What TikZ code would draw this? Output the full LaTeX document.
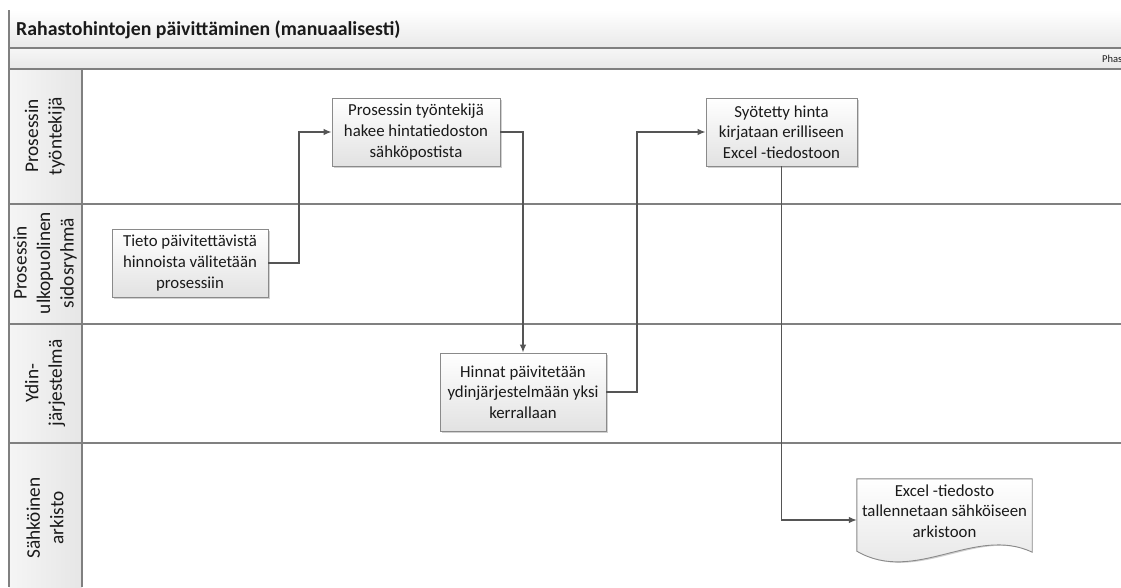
\documentclass[tikz,border=0pt]{standalone}
\usepackage{fontspec}
\setmainfont{Carlito}
\usetikzlibrary{calc,shadows,arrows.meta}
\definecolor{framegray}{HTML}{808080}
\definecolor{conngray}{HTML}{555555}
\definecolor{boxedge}{HTML}{8A8A8A}
\definecolor{bandlow}{HTML}{E9E9E9}
\definecolor{celllow}{HTML}{E6E6E6}
\definecolor{boxlow}{HTML}{E2E2E2}
\definecolor{inktext}{HTML}{1A1A1A}
\tikzset{
  frame/.style={draw=framegray, line width=1.1pt},
  task/.style={draw=boxedge, line width=0.9pt, top color=white, bottom color=boxlow,
    align=center, text=inktext, inner sep=0pt,
    font=\fontsize{16.8}{20.7}\selectfont,
    drop shadow={shadow xshift=1.8pt, shadow yshift=-1.8pt, fill=black, opacity=0.18}},
  lanetext/.style={rotate=90, align=center, text=inktext,
    font=\fontsize{19.3}{23.5}\selectfont},
  conn/.style={draw=conngray, line width=1.2pt, -{Latex[length=8pt,width=6.5pt]}},
}
\begin{document}
\begin{tikzpicture}[x=1pt,y=-1pt]
\useasboundingbox (0,0) rectangle (1121,587);
\fill[white] (0,0) rectangle (1121,587);

% title band and phase band
\shade[top color=white, bottom color=bandlow] (9,10) rectangle (1121,48);
\shade[top color=white!60!bandlow, bottom color=bandlow] (9,48) rectangle (1121,69);
\node[anchor=base west, text=inktext, inner sep=0pt,
  font=\fontsize{19.8}{23}\selectfont\bfseries] (title)
  at (16,35) {Rahastohintojen päivittäminen (manuaalisesti)};
\node[anchor=west, text=inktext, inner sep=0pt, font=\fontsize{10.5}{12}\selectfont] (phase)
  at (1102,59) {Phas};

% lane header column
\shade[left color=white!60!celllow, right color=celllow] (9,69) rectangle (82,587);

% lane frame
\draw[frame] (9,10) -- (9,587);
\draw[frame] (9,48) -- (1121,48);
\draw[frame] (9,69) -- (1121,69);
\draw[frame] (82,69) -- (82,587);
\draw[frame] (9,204) -- (1121,204);
\draw[frame] (9,324) -- (1121,324);
\draw[frame] (9,443) -- (1121,443);

% lane names
\node[lanetext] (lane1) at (45,136) {Prosessin\\työntekijä};
\node[lanetext] (lane2) at (45,263) {Prosessin\\ulkopuolinen\\sidosryhmä};
\node[lanetext] (lane3) at (45,383) {Ydin-\\järjestelmä};
\node[lanetext] (lane4) at (45,518) {Sähköinen\\arkisto};

% process steps
\node[task, minimum width=156pt, minimum height=68pt] (tieto) at (190,263)
  {Tieto päivitettävistä\\hinnoista välitetään\\prosessiin};
\node[task, minimum width=168pt, minimum height=68pt] (hakee) at (416,132)
  {Prosessin työntekijä\\hakee hintatiedoston\\sähköpostista};
\node[task, minimum width=166pt, minimum height=78pt] (hinnat) at (523,392)
  {Hinnat päivitetään\\ydinjärjestelmään yksi\\kerrallaan};
\node[task, minimum width=151pt, minimum height=68pt] (syot) at (781.5,132)
  {Syötetty hinta\\kirjataan erilliseen\\Excel -tiedostoon};

% document shape in the archive lane
\node[minimum width=175pt, minimum height=82pt, inner sep=0pt] (doc) at (944.5,520) {};
\fill[black, opacity=0.18, xshift=1.8pt, yshift=-1.8pt]
  (doc.north west) -- (doc.north east) -- ($(doc.south east)+(0,-9)$)
  .. controls (975,525) and (915,585) .. ($(doc.south west)+(0,-10)$) -- cycle;
\shade[draw=boxedge, line width=0.9pt, top color=white, bottom color=boxlow]
  (doc.north west) -- (doc.north east) -- ($(doc.south east)+(0,-9)$)
  .. controls (975,525) and (915,585) .. ($(doc.south west)+(0,-10)$) -- cycle;
\node[align=center, text=inktext, font=\fontsize{16.8}{20.7}\selectfont] (doctext)
  at ($(doc.center)+(0,-9)$) {Excel -tiedosto\\tallennetaan sähköiseen\\arkistoon};

% flow
\coordinate (bend1) at (299,200);
\coordinate (bend2) at (637,200);
\draw[conn] (tieto.east) -| (bend1) |- (hakee.west);
\draw[conn] (hakee.east) -| (hinnat.north);
\draw[conn] (hinnat.east) -| (bend2) |- (syot.west);
\draw[conn] (syot.south) |- (doc.west);
\end{tikzpicture}
\end{document}
